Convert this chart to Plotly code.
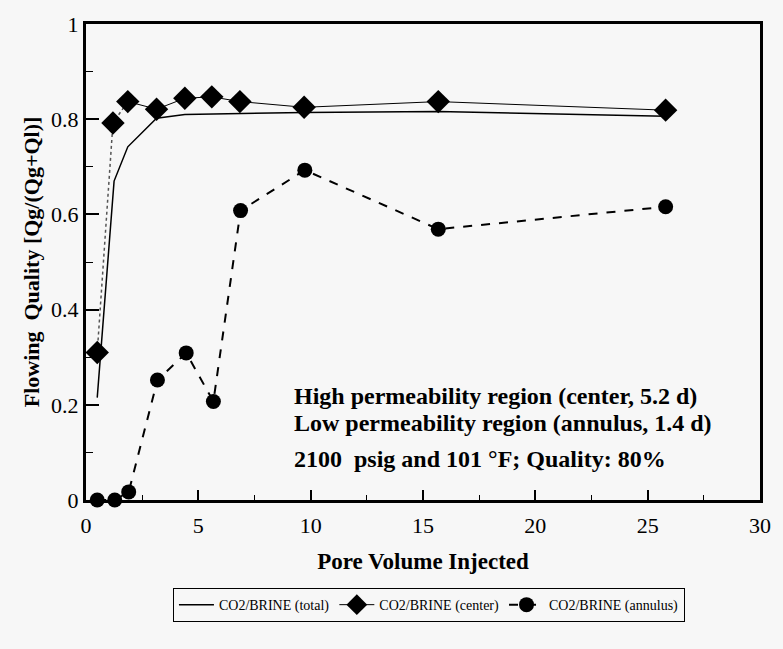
import plotly.graph_objects as go

# Data
center_x = [0.5, 1.2, 1.86, 3.14, 4.4, 5.6, 6.85, 9.71, 15.68, 25.8]
center_y = [0.31, 0.792, 0.837, 0.821, 0.844, 0.847, 0.837, 0.825, 0.837, 0.819]

annulus_x = [0.5, 1.28, 1.9, 3.18, 4.46, 5.67, 6.88, 9.74, 15.68, 25.8]
annulus_y = [0.0, 0.0, 0.017, 0.252, 0.309, 0.207, 0.608, 0.693, 0.569, 0.616]

total_x = [0.5, 1.25, 1.86, 3.14, 4.4, 6.85, 9.71, 15.68, 25.8]
total_y = [0.215, 0.67, 0.742, 0.802, 0.81, 0.812, 0.814, 0.816, 0.806]

x_ticks = [0, 5, 10, 15, 20, 25, 30]
y_ticks = [0, 0.2, 0.4, 0.6, 0.8, 1]
y_tick_text = ["0", "0.2", "0.4", "0.6", "0.8", "1"]

notes = [
    "High permeability region (center, 5.2 d)",
    "Low permeability region (annulus, 1.4 d)",
    "2100  psig and 101 °F; Quality: 80%",
]

SERIF = '"Liberation Serif", "Times New Roman", Times, serif'
BG = "#f7f7f7"

fig = go.Figure()

fig.add_trace(go.Scatter(
    x=total_x, y=total_y, mode="lines", name="CO2/BRINE (total)",
    line=dict(color="black", width=1.5), cliponaxis=False,
))
fig.add_trace(go.Scatter(
    x=center_x[:3], y=center_y[:3], mode="lines", showlegend=False,
    line=dict(color="#555555", width=1.5, dash="dot"), hoverinfo="skip",
))
fig.add_trace(go.Scatter(
    x=center_x[2:], y=center_y[2:], mode="lines+markers", name="CO2/BRINE (center)",
    line=dict(color="black", width=1),
    marker=dict(symbol="diamond", size=18, color="black"), cliponaxis=False,
))
fig.add_trace(go.Scatter(
    x=center_x[:2], y=center_y[:2], mode="markers", showlegend=False,
    marker=dict(symbol="diamond", size=18, color="black"), cliponaxis=False,
))
fig.add_trace(go.Scatter(
    x=annulus_x, y=annulus_y, mode="lines+markers", name="CO2/BRINE (annulus)",
    line=dict(color="black", width=2, dash="dash"),
    marker=dict(symbol="circle", size=15, color="black"), cliponaxis=False,
))

annotations = []
for i, t in enumerate(notes):
    annotations.append(dict(
        text="<b>%s</b>" % t, xref="paper", yref="paper",
        x=0.306, y=[0.219, 0.162, 0.087][i], xanchor="left", yanchor="middle",
        showarrow=False, font=dict(family=SERIF, size=24, color="black"),
    ))

fig.update_layout(
    width=783, height=649,
    margin=dict(l=86, r=15, t=20, b=149),
    paper_bgcolor=BG, plot_bgcolor=BG,
    font=dict(family=SERIF, color="black"),
    annotations=annotations,
    showlegend=True,
    legend=dict(
        orientation="h", x=0.129, y=-0.185, xanchor="left", yanchor="top",
        bordercolor="black", borderwidth=1, bgcolor=BG,
        font=dict(family=SERIF, size=14, color="black"),
        itemwidth=35,
    ),
    xaxis=dict(
        range=[0, 30], tickmode="array", tickvals=x_ticks,
        ticks="inside", ticklen=10, tickwidth=1.5, tickcolor="black",
        minor=dict(dtick=2.5, ticks="inside", ticklen=5, tickwidth=1, tickcolor="black"),
        showline=True, linecolor="black", linewidth=3, mirror=True,
        showgrid=False, zeroline=False,
        tickfont=dict(family=SERIF, size=22),
        ticklabelstandoff=4,
        title=dict(text="<b>Pore Volume Injected</b>", font=dict(family=SERIF, size=23), standoff=16),
    ),
    yaxis=dict(
        range=[0, 1], tickmode="array", tickvals=y_ticks, ticktext=y_tick_text,
        ticks="inside", ticklen=13, tickwidth=1.5, tickcolor="black",
        minor=dict(dtick=0.1, ticks="inside", ticklen=7, tickwidth=1, tickcolor="black"),
        showline=True, linecolor="black", linewidth=3, mirror=True,
        showgrid=False, zeroline=False,
        tickfont=dict(family=SERIF, size=22),
        title=dict(text="<b>Flowing  Quality [Qg/(Qg+Ql)]</b>", font=dict(family=SERIF, size=22), standoff=6),
    ),
)

fig.write_html("out.html")
